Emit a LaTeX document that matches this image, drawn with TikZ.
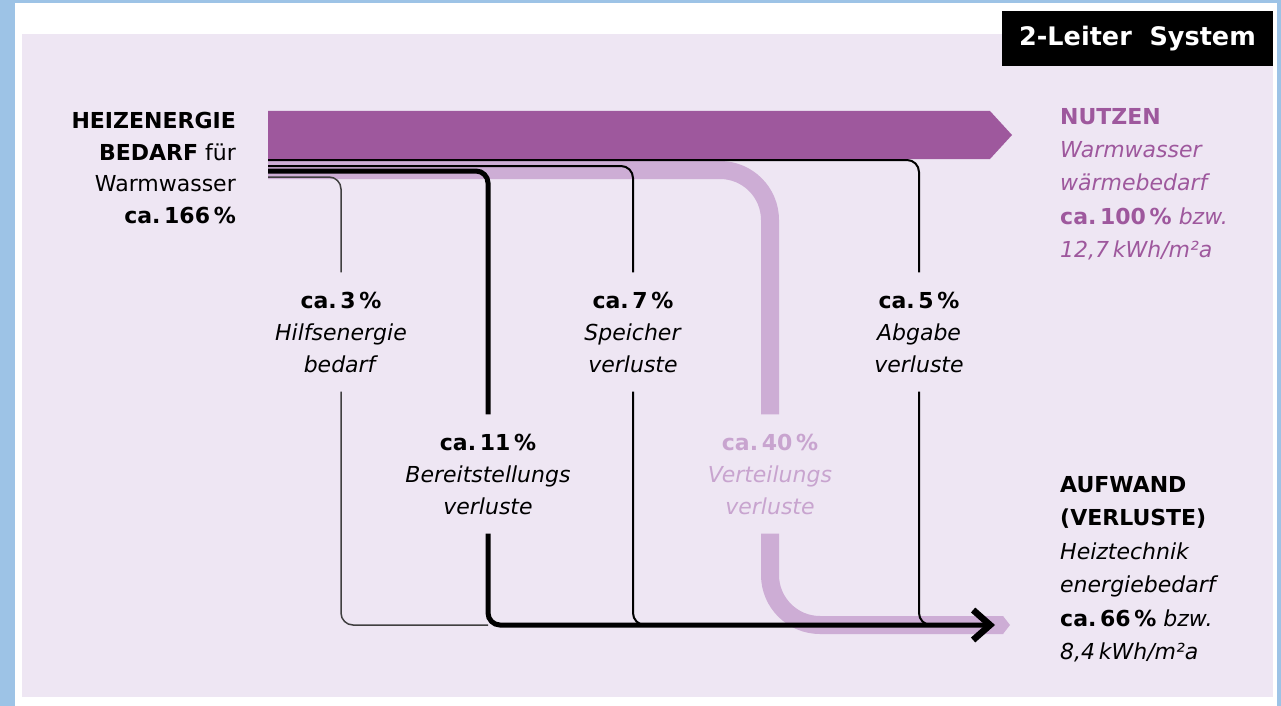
\documentclass[tikz,border=0pt]{standalone}
\usepackage{fontspec}
\setmainfont{DejaVu Sans}
\usetikzlibrary{arrows.meta}
\definecolor{rahmen}{HTML}{9DC3E6}
\definecolor{flaeche}{HTML}{EEE6F3}
\definecolor{nutzlila}{HTML}{9E589D}
\definecolor{verlustlila}{HTML}{CDADD5}
\tikzstyle{verlust} = [align=center, inner sep=0pt, minimum height=119pt]
\tikzstyle{block} = [inner sep=0pt]
\tikzstyle{duenn} = [draw=black!75, line width=1.5pt, rounded corners=12pt]
\tikzstyle{linie} = [draw=black, line width=2pt, rounded corners=12pt]
\tikzstyle{dick} = [draw=black, line width=5pt, rounded corners=12pt]
\tikzstyle{band} = [draw=verlustlila, line width=18pt, rounded corners=50pt]
\tikzstyle{arrow} = [-{Straight Barb[length=17pt,width=30pt,line width=6.5pt]}]

\begin{document}
\begin{tikzpicture}[x=1pt,y=-1pt]
%background
\useasboundingbox (0,0) rectangle (1281,706);
\fill[rahmen] (0,0) rectangle (1281,706);
\fill[white] (15,3) rectangle (1277,706);
\fill[flaeche] (22,34) rectangle (1273,697);
\node[fill=black, text=white, minimum width=271pt, minimum height=55pt, font=\fontsize{25.5pt}{25.5pt}\selectfont\bfseries] (titel) at (1137.5,38.5) {2-Leiter\hspace{0.35em} System};

%nodes
%Bedarf und Ergebnis
\node[font=\fontsize{22pt}{31.5pt}\selectfont] (bedarf) [block, align=right, anchor=north east] at (236,112) {\textbf{HEIZENERGIE}\\\textbf{BEDARF} für\\Warmwasser\\\textbf{ca.\,166\,\%}};
\node[font=\fontsize{22pt}{33.3pt}\selectfont, text=nutzlila] (nutzen) [block, align=left, anchor=north west] at (1060,108) {\textbf{NUTZEN}\\\textit{Warmwasser}\\\textit{wärmebedarf}\\\textbf{ca.\,100\,\%} \textit{bzw.}\\\textit{12,7\,kWh/m²a}};
\node[font=\fontsize{22pt}{33.5pt}\selectfont] (aufwand) [block, align=left, anchor=north west] at (1060,476) {\textbf{AUFWAND}\\\textbf{(VERLUSTE)}\\\textit{Heiztechnik}\\\textit{energiebedarf}\\\textbf{ca.\,66\,\%} \textit{bzw.}\\\textit{8,4\,kWh/m²a}};

%Verluste
\node[font=\fontsize{22pt}{32pt}\selectfont] (hilf) [verlust] at (341,332) {\textbf{ca.\,3\,\%}\\\textit{Hilfsenergie}\\\textit{bedarf}};
\node[font=\fontsize{22pt}{32pt}\selectfont] (bereit) [verlust] at (488,474) {\textbf{ca.\,11\,\%}\\\textit{Bereitstellungs}\\\textit{verluste}};
\node[font=\fontsize{22pt}{32pt}\selectfont] (speich) [verlust] at (633,332) {\textbf{ca.\,7\,\%}\\\textit{Speicher}\\\textit{verluste}};
\node[font=\fontsize{22pt}{32pt}\selectfont, text=verlustlila!90!nutzlila] (vert) [verlust] at (770,474) {\textbf{ca.\,40\,\%}\\\textit{Verteilungs}\\\textit{verluste}};
\node[font=\fontsize{22pt}{32pt}\selectfont] (abgabe) [verlust] at (919,332) {\textbf{ca.\,5\,\%}\\\textit{Abgabe}\\\textit{verluste}};

%coordinates
\coordinate (q5) at (268,160);
\coordinate (q40) at (268,170);
\coordinate (q7) at (268,166);
\coordinate (q11) at (268,171);
\coordinate (q3) at (268,177);
\coordinate (sammel) at (960,625);
\coordinate (pfeil) at (995,625);
\coordinate (bandende) at (1003,625);

%Nutzen
\fill[nutzlila] (268,111) -- (990,111) -- (1012,135) -- (990,159) -- (268,159) -- cycle;

%arrows
%Verteilungsverluste
\draw[band] (q40) -| (vert.north);
\draw[band] (vert.south) |- (bandende);
\fill[verlustlila] (bandende) ++(0,-9) -- ++(7,9) -- ++(-7,9) -- cycle;
%Abgabe und Speicher
\draw[linie] (q5) -| (abgabe.north);
\draw[linie] (abgabe.south) |- (sammel);
\draw[linie] (q7) -| (speich.north);
\draw[linie] (speich.south) |- (sammel);
%Hilfsenergie
\draw[duenn] (q3) -| (hilf.north);
\draw[duenn] (hilf.south) |- (bereit.south |- pfeil);
%Bereitstellung
\draw[dick] (q11) -| (bereit.north);
\draw[dick, arrow] (bereit.south) |- (pfeil);
\end{tikzpicture}
\end{document}
